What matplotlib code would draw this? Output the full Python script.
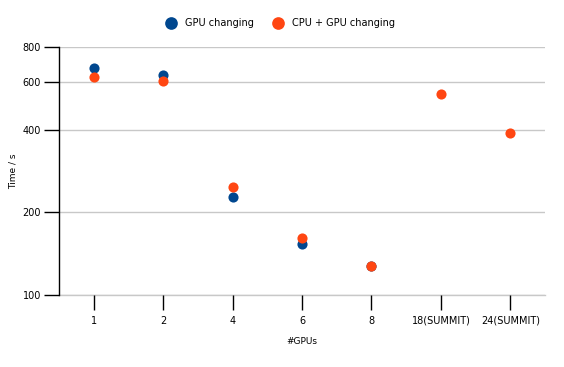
import matplotlib
matplotlib.use('Agg')
import matplotlib.pyplot as plt
import numpy as np

# Data
categories = ['1', '2', '4', '6', '8', '18(SUMMIT)', '24(SUMMIT)']
gpu_changing = [673, 633, 228, 153, 128, None, None]
cpu_gpu_changing = [622, 602, 248, 161, 128, 539, 389]
y_ticks = [100, 200, 400, 600, 800]

BLUE = '#00478f'
ORANGE = '#ff4612'

plt.rcParams['font.family'] = ['DejaVu Sans']

fig = plt.figure(figsize=(5.64, 3.67), dpi=100)
ax = fig.add_axes([0.1045, 0.196, 0.862, 0.675])

x_pos = np.arange(len(categories))
gpu = np.array([np.nan if v is None else v for v in gpu_changing], dtype=float)
cpu = np.array(cpu_gpu_changing, dtype=float)

ax.plot(x_pos, gpu, 'o', color=BLUE, markersize=7.3, markeredgewidth=0,
        label='GPU changing', zorder=3)
ax.plot(x_pos, cpu, 'o', color=ORANGE, markersize=7.3, markeredgewidth=0,
        label='CPU + GPU changing', zorder=4)

ax.set_yscale('log')
ax.set_ylim(100, 800)
ax.set_xlim(-0.5, 6.5)
ax.yaxis.set_major_locator(matplotlib.ticker.FixedLocator(y_ticks))
ax.yaxis.set_minor_locator(matplotlib.ticker.NullLocator())
ax.set_yticklabels([str(t) for t in y_ticks])
ax.set_xticks(x_pos)
ax.set_xticklabels(categories)

ax.grid(True, axis='y', color='#c8c8c8', linewidth=1)
# bottom gridline sits on the axis limit, draw it unclipped
ax.axhline(100, color='#c8c8c8', linewidth=1, clip_on=False, zorder=0.5)
ax.set_axisbelow(True)
for side in ['top', 'right', 'bottom']:
    ax.spines[side].set_visible(False)
ax.spines['left'].set_color('black')
ax.spines['left'].set_linewidth(1)

ax.tick_params(axis='y', length=11, width=1, color='black', labelsize=7, pad=2)
ax.tick_params(axis='x', length=11, width=1, color='black', labelsize=7, pad=4)

ax.set_ylabel('Time / s', fontsize=6.5)
ax.yaxis.set_label_coords(-0.086, 0.5)
ax.set_xlabel('#GPUs', fontsize=6.5, labelpad=8)

leg = fig.legend(loc='upper center', bbox_to_anchor=(0.493, 0.985), ncol=2,
                 frameon=False, fontsize=7, markerscale=1.25,
                 handletextpad=0.5, columnspacing=1.4, borderaxespad=0.9)

fig.savefig('out.png', dpi=100)
